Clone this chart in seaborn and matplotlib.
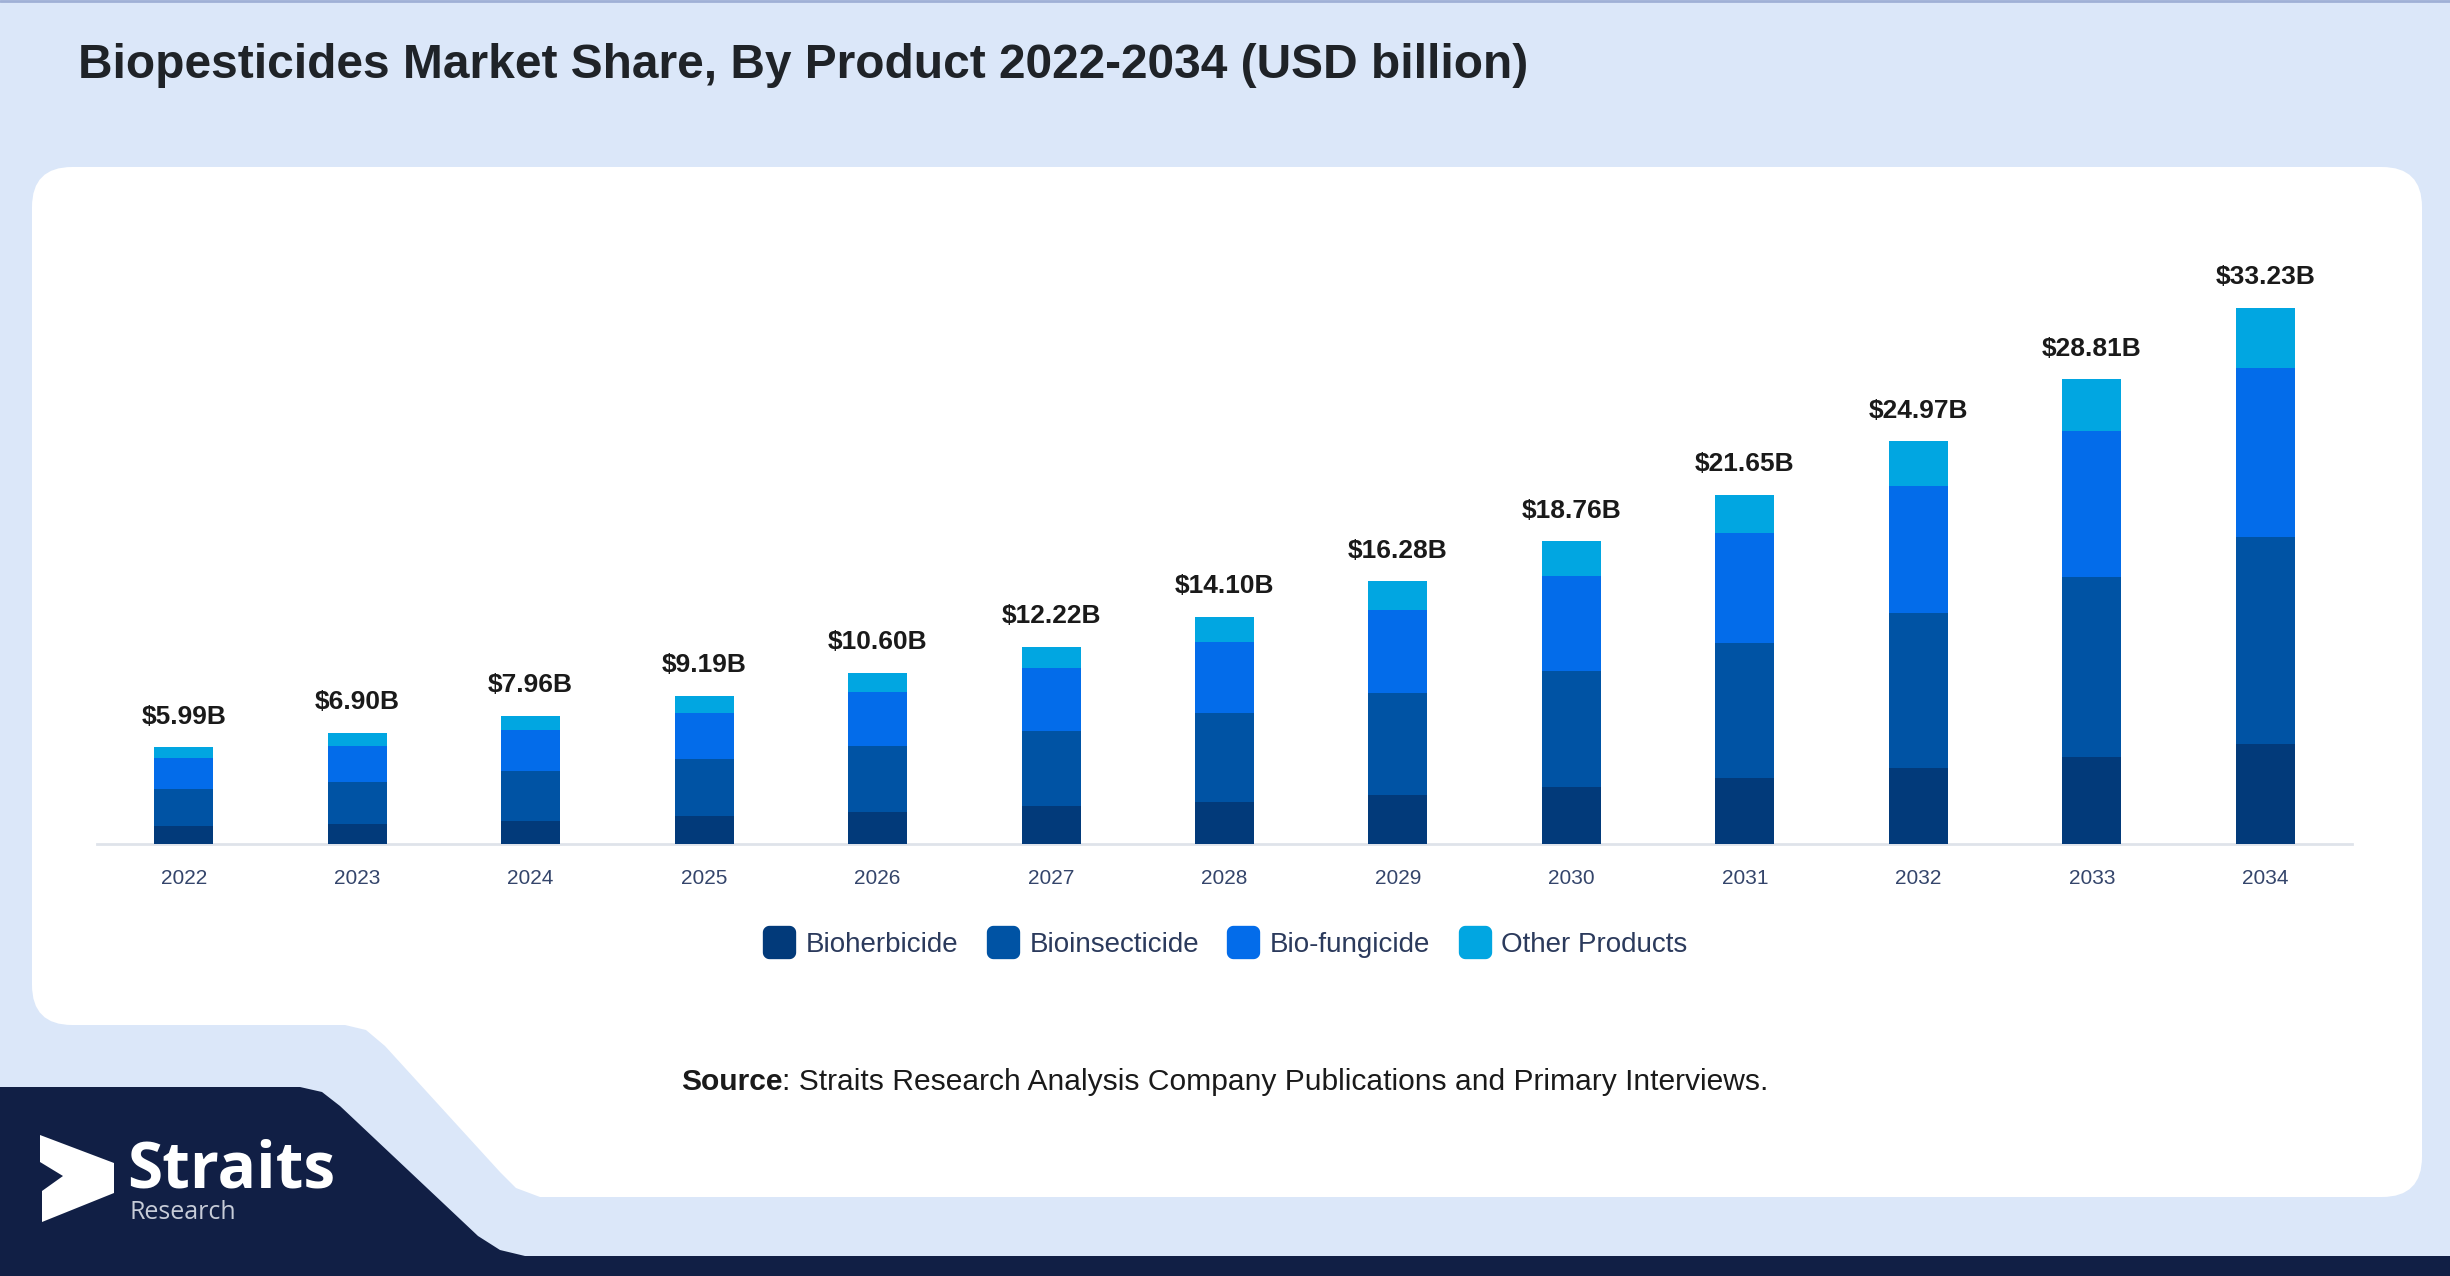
import numpy as np
import pandas as pd
import matplotlib
matplotlib.use("Agg")
import matplotlib.pyplot as plt
import seaborn as sns
from matplotlib.patches import FancyBboxPatch, Polygon
from matplotlib.lines import Line2D
from matplotlib.path import Path

# ---- donnees (USD milliards) ----
years = ["2022", "2023", "2024", "2025", "2026", "2027", "2028",
         "2029", "2030", "2031", "2032", "2033", "2034"]
totals = [5.99, 6.90, 7.96, 9.19, 10.60, 12.22, 14.10, 16.28, 18.76, 21.65, 24.97, 28.81, 33.23]
bioherbicide = [1.10, 1.27, 1.45, 1.71, 1.99, 2.34, 2.63, 3.06, 3.52, 4.08, 4.70, 5.41, 6.22]
bioinsecticide = [2.33, 2.57, 3.10, 3.58, 4.10, 4.69, 5.49, 6.29, 7.23, 8.35, 9.65, 11.13, 12.81]
biofungicide = [1.91, 2.21, 2.50, 2.81, 3.33, 3.86, 4.43, 5.13, 5.88, 6.85, 7.84, 9.07, 10.51]
other_products = [0.65, 0.85, 0.91, 1.09, 1.18, 1.33, 1.55, 1.80, 2.13, 2.37, 2.78, 3.20, 3.69]

products = ["Bioherbicide", "Bioinsecticide", "Bio-fungicide", "Other Products"]
colors = ["#023a7a", "#0053a4", "#036cea", "#01a6e1"]

df = pd.DataFrame({"year": years, "Bioherbicide": bioherbicide,
                   "Bioinsecticide": bioinsecticide, "Bio-fungicide": biofungicide,
                   "Other Products": other_products})
cum = df[products].cumsum(axis=1)

sns.set_theme(style="white")
plt.rcParams["font.family"] = ["Liberation Sans", "DejaVu Sans"]

W, H = 2450, 1276
fig = plt.figure(figsize=(W / 100, H / 100), dpi=100)
fig.patch.set_facecolor("#dbe7f9")

# ---- fond : panneau blanc, bandeau bleu nuit ----
bg = fig.add_axes([0, 0, 1, 1], zorder=0)
bg.set_xlim(0, W)
bg.set_ylim(H, 0)
bg.axis("off")
bg.axhline(1, color="#9fb0d6", lw=2)
bg.add_patch(FancyBboxPatch((32, 167), 2390, 858, boxstyle="round,pad=0,rounding_size=40",
                            fc="white", ec="none"))
bg.add_patch(FancyBboxPatch((560, 600), 1862, 597, boxstyle="round,pad=0,rounding_size=40",
                            fc="white", ec="none"))
bg.add_patch(Polygon([(300, 980), (620, 980), (620, 1197), (540, 1197), (516, 1188),
                      (500, 1172), (385, 1046), (366, 1030), (345, 1025), (300, 1025)],
                     closed=True, fc="white", ec="none"))
bg.add_patch(Polygon([(0, 1087), (300, 1087), (322, 1092), (340, 1106), (478, 1236),
                      (500, 1250), (525, 1256), (W, 1256), (W, H), (0, H)],
                     closed=True, fc="#111f45", ec="none"))
# logo
bg.add_patch(Polygon([(40, 1135), (114, 1163), (114, 1193), (42, 1222), (42, 1191),
                      (63, 1176), (40, 1162)], closed=True, fc="white", ec="none"))
bg.text(127, 1188, "Straits", color="white", fontsize=46, fontweight="bold",
        family=["Open Sans", "DejaVu Sans"], va="baseline", ha="left")
bg.text(129, 1219, "Research", color="#c7ccd8", fontsize=18,
        family=["Open Sans", "DejaVu Sans"], va="baseline", ha="left")

# titre
fig.text(78 / W, 1 - 65 / H, "Biopesticides Market Share, By Product 2022-2034 (USD billion)",
         fontsize=34.5, fontweight="bold", color="#1f2328", va="center", ha="left")

# source
t1 = fig.text(681 / W, 1 - 1090 / H, "Source", fontsize=21.6, fontweight="bold",
              color="#1a1a1a", va="baseline", ha="left")
bg.annotate(": Straits Research Analysis Company Publications and Primary Interviews.",
            xy=(1, 0), xycoords=t1, va="bottom", ha="left", fontsize=21.6, color="#1a1a1a")

# ---- barres empilees ----
ax = fig.add_axes([97 / W, (H - 844) / H, (2352 - 97) / W, 580.7 / H], zorder=2)
ax.patch.set_alpha(0)
for i in range(len(products) - 1, -1, -1):
    sns.barplot(x=df["year"], y=cum[products[i]], color=colors[i], saturation=1,
                width=0.34, ax=ax, zorder=3, linewidth=0, edgecolor="none")

ax.set_xlim(-0.5, 12.5)
ax.set_ylim(0, 36)
ax.set_xlabel("")
ax.set_ylabel("")
ax.set_yticks([])
for s in ["top", "right", "left"]:
    ax.spines[s].set_visible(False)
ax.spines["bottom"].set_color("#dfe3ea")
ax.spines["bottom"].set_linewidth(2)
ax.tick_params(axis="x", length=0, pad=18, labelsize=15, labelcolor="#34456b")

for i, tot in enumerate(totals):
    ax.annotate(f"${tot:.2f}B", xy=(i, tot), xytext=(0, 22), textcoords="offset points",
                ha="center", va="center", fontsize=19, fontweight="bold", color="#1a1a1a")

# ---- legende ----
def rounded_square(r=0.4, n=10):
    verts = []
    for cx, cy, a0 in [(1 - r, 1 - r, 0), (-1 + r, 1 - r, 90),
                       (-1 + r, -1 + r, 180), (1 - r, -1 + r, 270)]:
        for t in np.linspace(a0, a0 + 90, n):
            verts.append((cx + r * np.cos(np.radians(t)), cy + r * np.sin(np.radians(t))))
    verts.append(verts[0])
    return Path(verts, closed=True)

marker = rounded_square()
handles = [Line2D([], [], ls="none", marker=marker, markersize=24, mfc=c, mec="none")
           for c in colors]
leg = fig.legend(handles, products, loc="center", bbox_to_anchor=(0.5, 1 - 945 / H),
                 ncol=4, frameon=False, fontsize=20, handlelength=1.2,
                 handletextpad=0.35, columnspacing=1.0)
for txt in leg.get_texts():
    txt.set_color("#2b3a5c")

fig.savefig("out.png", dpi=100, facecolor=fig.get_facecolor())
